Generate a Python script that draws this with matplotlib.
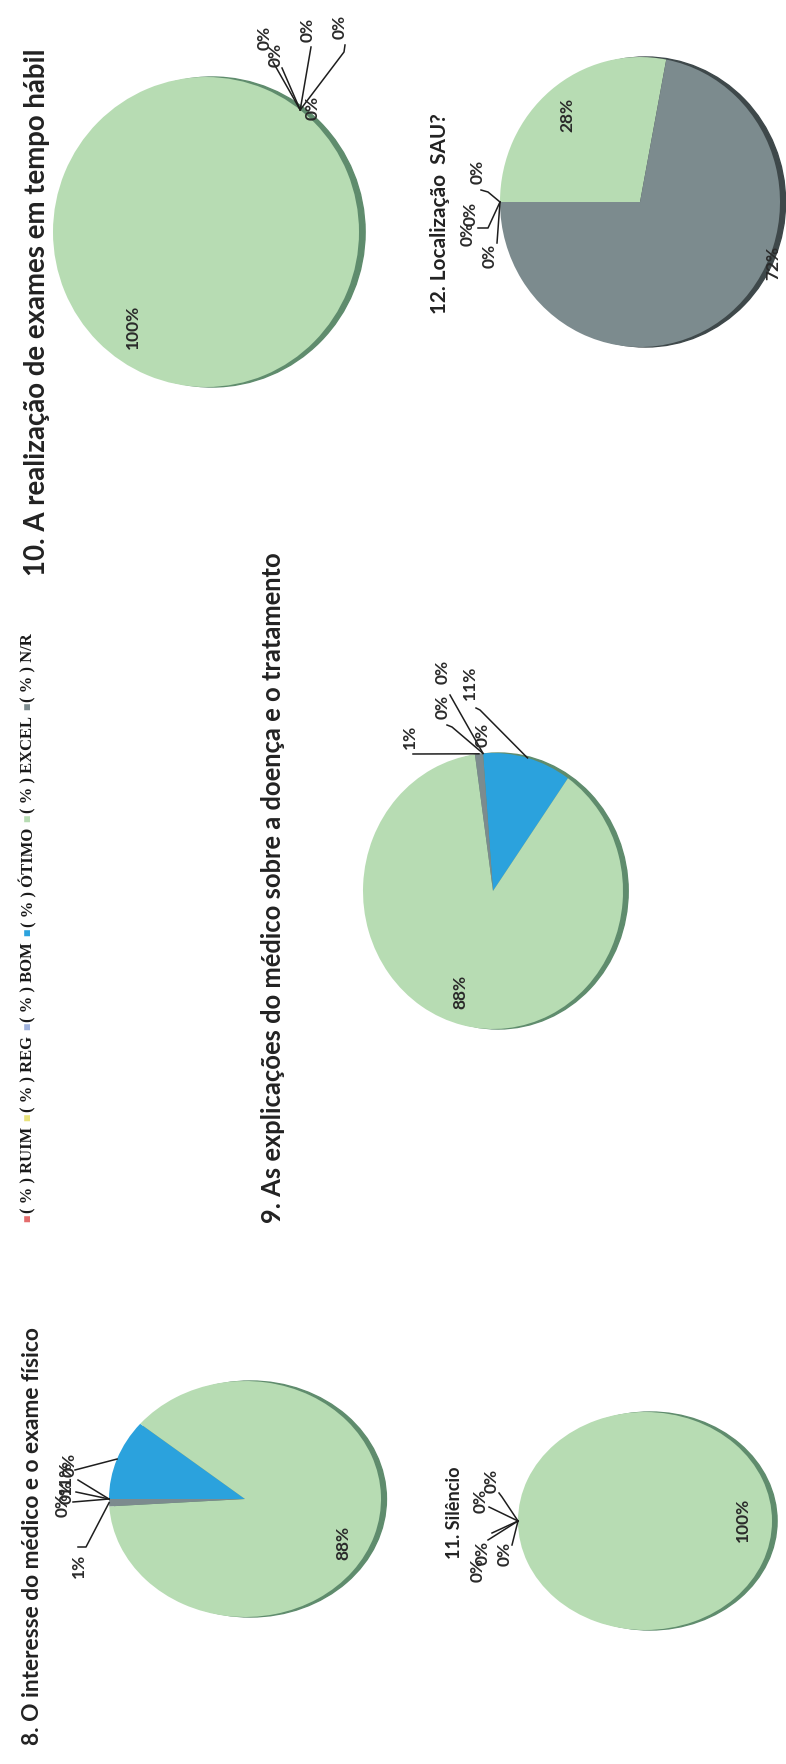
import matplotlib.pyplot as plt
from matplotlib.patches import Ellipse
import numpy as np

W, H = 786, 1764

# categorias da avaliação e cores da legenda
categorias = ['RUIM', 'REG', 'BOM', 'ÓTIMO', 'EXCEL', 'N/R']
cores = ['#e46c6c', '#e8e27a', '#9fb2dd', '#2ba2dd', '#b7dcb3', '#7c8b8e']

# percentuais por questão (mesma ordem das categorias)
p8 = [0, 0, 0, 11, 88, 1]
p9 = [0, 0, 0, 11, 88, 1]
p10 = [0, 0, 0, 0, 100, 0]
p11 = [0, 0, 0, 0, 100, 0]
p12 = [0, 0, 0, 0, 28, 72]

t8 = '8. O interesse do médico e o exame físico'
t9 = '9. As explicações do médico sobre a doença e o tratamento'
t10 = '10. A realização de exames em tempo hábil'
t11 = '11. Silêncio'
t12 = '12. Localização  SAU?'

fonte = ['Lato', 'DejaVu Sans']
cor_txt = '#2a2a2a'

fig = plt.figure(figsize=(W / 100, H / 100), dpi=100)
fig.patch.set_facecolor('white')
r = fig.canvas.get_renderer()


def fx(px):
    return px / W


def fy(py):
    return 1 - py / H


def ajusta(t, comp):
    # escala a fonte para o texto (girado) ocupar 'comp' pixels na vertical
    bb = t.get_window_extent(renderer=r)
    t.set_fontsize(t.get_fontsize() * comp / bb.height)


def pizza(valores, titulo, lay):
    cx, cy, sx, sy = lay['caixa']
    ax = fig.add_axes([fx(cx - sx), fy(cy + sy), 2 * sx / W, 2 * sy / H])
    # borda escura do efeito 3D, do lado direito
    ax.add_patch(Ellipse((0.04, 0), 2, 2, color=lay['sombra'], zorder=0,
                         clip_on=False))
    ax.pie(valores, colors=cores, startangle=lay['inicio'], counterclock=False,
           radius=1, wedgeprops=dict(linewidth=0, clip_on=False))
    ax.set_aspect('auto')
    ax.set_xlim(-1, 1)
    ax.set_ylim(-1, 1)
    ax.axis('off')

    tot = sum(valores)
    acum = np.cumsum([0] + valores[:-1])
    for i, v in enumerate(valores):
        px, py = lay['rotulos'][i]
        fig.text(fx(px), fy(py), f'{v}%', rotation=90, ha='center', va='center',
                 fontsize=12.5, fontweight='bold', color=cor_txt, family=fonte,
                 zorder=5)
        pts = lay['guias'].get(i)
        if pts is None:
            continue
        ang = np.radians(lay['inicio'] - 360 * (acum[i] + v / 2) / tot)
        xs = [(p[0] - cx) / sx for p in pts] + [np.cos(ang)]
        ys = [(cy - p[1]) / sy for p in pts] + [np.sin(ang)]
        ax.plot(xs, ys, color='#1e1e1e', lw=1.1, clip_on=False, zorder=4)

    tx, ty, comp = lay['titulo']
    t = fig.text(fx(tx), fy(ty), titulo, rotation=90, ha='center', va='center',
                 fontsize=15, fontweight='bold', color='#222222', family=fonte)
    ajusta(t, comp)
    return ax


lay8 = dict(caixa=(245, 1499, 136, 118), inicio=180, sombra='#5f8c6d',
            rotulos=[(63, 1505), (67, 1492), (70, 1465), (66, 1478), (343, 1543), (79, 1566)],
            guias={0: [(73, 1502)], 1: [(76, 1492)], 2: [(78, 1480)], 3: [(75, 1470)],
                   5: [(78, 1547), (86, 1547)]},
            titulo=(33, 1536, 422))
lay9 = dict(caixa=(493, 891, 130, 138), inicio=94.4, sombra='#5f8c6d',
            rotulos=[(443, 672), (443, 707), (483, 735), (470, 683), (460, 992), (410, 737)],
            guias={0: [(450, 695)], 1: [(447, 725), (452, 727)],
                   3: [(476, 708), (480, 710)], 5: [(413, 754)]},
            titulo=(273, 888, 675))
lay10 = dict(caixa=(206, 232, 153, 155), inicio=52, sombra='#5f8c6d',
             rotulos=[(265, 38), (276, 55), (308, 30), (340, 27), (133, 327), (313, 108)],
             guias={0: [(273, 62)], 1: [(282, 68)], 2: [(311, 47)],
                    3: [(345, 45), (344, 52)]},
             titulo=(37, 312, 530))
lay11 = dict(caixa=(645, 1521, 127, 109), inicio=180, sombra='#5f8c6d',
             rotulos=[(478, 1570), (483, 1553), (505, 1554), (481, 1501), (743, 1520), (492, 1481)],
             guias={0: [(488, 1540)], 1: [(492, 1533)], 2: [(512, 1545)],
                    3: [(489, 1507)], 5: [(499, 1493), (502, 1497)]},
             titulo=(455, 1513, 93))
lay12 = dict(caixa=(640, 202, 140, 145), inicio=180, sombra='#3e484a',
             rotulos=[(478, 172), (471, 214), (468, 234), (490, 256), (567, 115), (773, 263)],
             guias={0: [(481, 190), (488, 192)], 1: [(478, 228), (488, 228)],
                    3: [(497, 243)]},
             titulo=(440, 214, 202))

pizza(p8, t8, lay8)
pizza(p9, t9, lay9)
pizza(p10, t10, lay10)
pizza(p11, t11, lay11)
pizza(p12, t12, lay12)


# legenda vertical, montada peça por peça de baixo para cima
def legenda(fs, x=28, base=1222):
    arts = []
    y = base
    for nome, c in zip(categorias, cores):
        for s, cor, tam, folga in (('■', c, fs * 0.75, 0.1),
                                   ('( % ) ' + nome, '#1a1a1a', fs, 0.5)):
            t = fig.text(fx(x), fy(y), s, rotation=90, rotation_mode='anchor',
                         ha='left', va='center', fontsize=tam, fontweight='bold',
                         color=cor, family=['Liberation Serif', 'DejaVu Serif'])
            arts.append(t)
            y -= t.get_window_extent(renderer=r).height + fs * folga
    return arts, base - y


arts, comp = legenda(9)
for a in arts:
    a.remove()
legenda(9 * 595 / comp)

fig.savefig('out.png', dpi=100, facecolor='white')
